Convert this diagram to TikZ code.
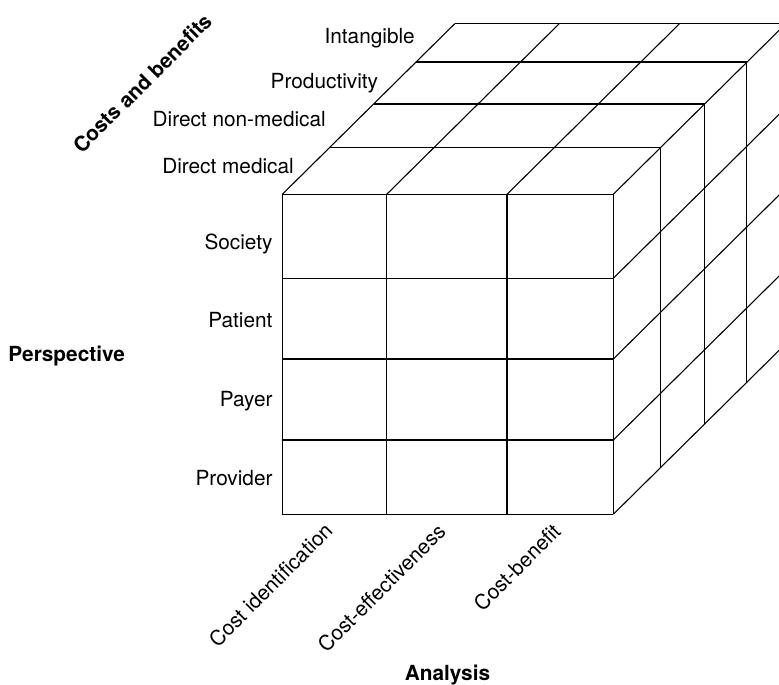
\documentclass[tikz,border=0pt]{standalone}
\usepackage{fontspec}
\setmainfont{TeX Gyre Heros}
\begin{document}
\begin{tikzpicture}[x=1pt,y=-1pt,
  grid/.style={line width=1.1pt, line join=miter},
  lbl/.style={inner sep=0pt, font=\fontsize{20.8}{25}\selectfont},
  axis/.style={inner sep=0pt, font=\fontsize{20.8}{25}\selectfont\bfseries}]
\useasboundingbox (0,0) rectangle (779,685);

% the cube: front face, top face and right face
\begin{scope}
\clip (0,0) rectangle (779,685);
% front face
\foreach \x in {282.3,386.7,507,613.3}
  \draw[grid] (\x,194.3) -- (\x,514.3);
\foreach \y in {194.3,278.3,359,440,514.3}
  \draw[grid] (282.3,\y) -- (613.3,\y);
% receding edges of the top face
\foreach \x in {282.3,386.7,507,613.3}
  \draw[grid] (\x,194.3) -- ++(172.5,-170.6);
% receding edges of the right face
\foreach \y in {278.3,359,440,514.3}
  \draw[grid] (613.3,\y) -- ++(172.5,-170.6);
% depth layers: top-face rows and right-face columns
\foreach \dx/\dy in {47/46.6,91.5/90.3,133.5/132.3,172.5/170.6}
  \draw[grid] (282.3+\dx,194.3-\dy) -- (613.3+\dx,194.3-\dy)
              -- (613.3+\dx,514.3-\dy);
\end{scope}

% cost and benefit categories
\node[lbl, anchor=base east] (intang) at (415,44) {Intangible};
\node[lbl, anchor=base east] (prod) at (378.3,88.3) {Productivity};
\node[lbl, anchor=base east] (dnm) at (326,126.7) {Direct non-medical};
\node[lbl, anchor=base east] (dm) at (294,173.3) {Direct medical};
\node[axis, rotate=45] (cab) at (142.5,83.3) {Costs and benefits};

% perspectives
\node[lbl, anchor=base east] (soc) at (272.7,249.3) {Society};
\node[lbl, anchor=base east] (pat) at (272.7,327.7) {Patient};
\node[lbl, anchor=base east] (pay) at (272.7,406.7) {Payer};
\node[lbl, anchor=base east] (prov) at (272.7,485) {Provider};
\node[axis, anchor=base west] (persp) at (8.3,361) {Perspective};

% analysis types
\node[lbl, rotate=45, anchor=base east] (ci) at (334,532) {Cost identification};
\node[lbl, rotate=45, anchor=base east] (ce) at (447,533) {Cost-effectiveness};
\node[lbl, rotate=45, anchor=base east] (cb) at (562,533) {Cost-benefit};
\node[axis, anchor=base] (anal) at (447.5,680) {Analysis};
\end{tikzpicture}
\end{document}
